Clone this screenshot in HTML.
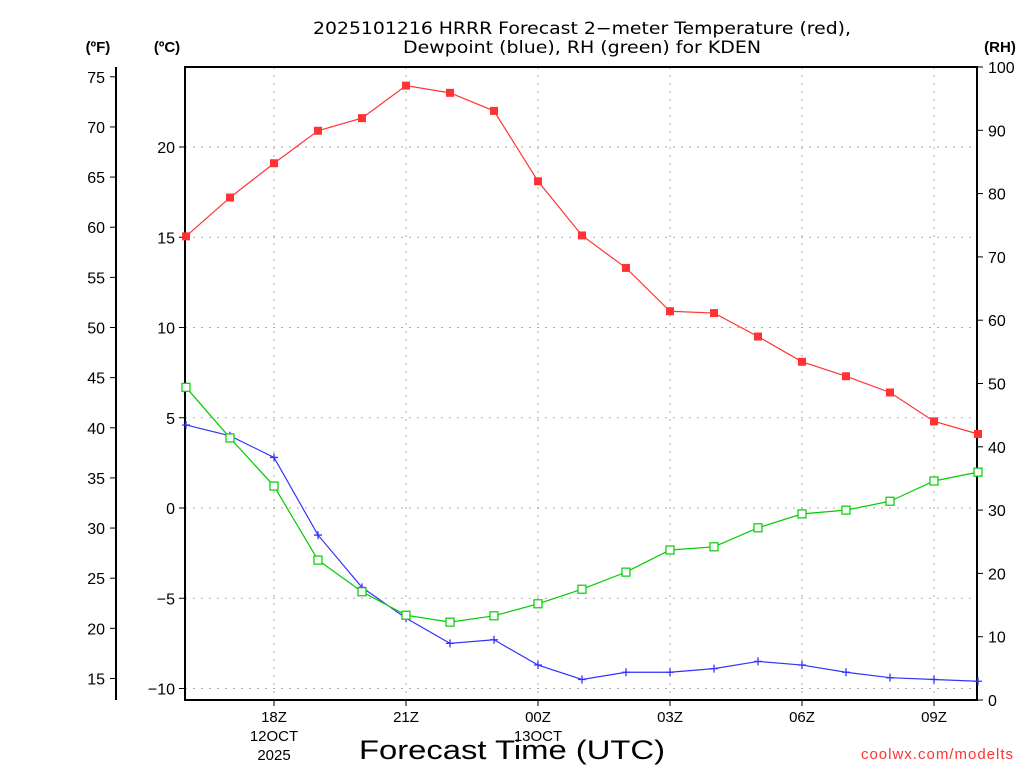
<!DOCTYPE html>
<html><head><meta charset="utf-8"><style>
html,body{margin:0;padding:0;background:#fff;}
svg{display:block;font-family:"Liberation Sans","DejaVu Sans",sans-serif;}
</style></head><body>
<svg id="c" width="1024" height="768" viewBox="0 0 1024 768">
<text x="582" y="34" text-anchor="middle" font-size="17" font-family="DejaVu Sans, sans-serif" textLength="538" lengthAdjust="spacingAndGlyphs">2025101216 HRRR Forecast 2−meter Temperature (red),</text>
<text x="582" y="53" text-anchor="middle" font-size="17" font-family="DejaVu Sans, sans-serif" textLength="358" lengthAdjust="spacingAndGlyphs">Dewpoint (blue), RH (green) for KDEN</text>
<text x="98" y="52" text-anchor="middle" font-size="15" font-weight="bold">(ºF)</text>
<text x="167" y="52" text-anchor="middle" font-size="15" font-weight="bold">(ºC)</text>
<text x="1000" y="52" text-anchor="middle" font-size="15" font-weight="bold">(RH)</text>
<text x="512" y="759" text-anchor="middle" font-size="27" textLength="306" lengthAdjust="spacingAndGlyphs">Forecast Time (UTC)</text>
<text x="1014" y="759" text-anchor="end" font-size="15" fill="#f33" letter-spacing="1">coolwx.com/modelts</text>
<g id="grid"></g><g id="axes"></g><g id="series"></g>
</svg>
<script>
const hours = [16,17,18,19,20,21,22,23,24,25,26,27,28,29,30,31,32,33,34];
const tempC = [15.05,17.2,19.1,20.9,21.6,23.4,23.0,22.0,18.1,15.1,13.3,10.9,10.8,9.5,8.1,7.3,6.4,4.8,4.1];
const dewC = [4.6,4.0,2.8,-1.5,-4.4,-6.1,-7.5,-7.3,-8.7,-9.5,-9.1,-9.1,-8.9,-8.5,-8.7,-9.1,-9.4,-9.5,-9.6];
const rh = [49.4,41.4,33.8,22.1,17.1,13.4,12.3,13.3,15.2,17.5,20.2,23.7,24.2,27.2,29.4,30.0,31.4,34.6,36.0];
const xTickHours = [18,21,24,27,30,33];
const xTickLabels = ["18Z","21Z","00Z","03Z","06Z","09Z"];
const cTicks = [20,15,10,5,0,-5,-10];
const fTicks = [75,70,65,60,55,50,45,40,35,30,25,20,15];
const rhTicks = [100,90,80,70,60,50,40,30,20,10,0];

const NS="http://www.w3.org/2000/svg";
const X=h=>274+(h-18)*44;
const YC=c=>508-c*18.05;
const YF=f=>YC((f-32)*5/9);
const YR=r=>700-r*6.33;
function mk(tag,attrs,parent,text){const e=document.createElementNS(NS,tag);for(const k in attrs)e.setAttribute(k,attrs[k]);if(text!==undefined)e.textContent=text;parent.appendChild(e);return e;}
const grid=document.getElementById('grid'),axes=document.getElementById('axes'),ser=document.getElementById('series');
const L=185,R=977,T=67,B=700;
xTickHours.forEach((h,i)=>{
  const g=mk('line',{x1:X(h),x2:X(h),y1:T,y2:B,stroke:'#aaa','stroke-dasharray':'2,6'},grid);
  
  
  const t=mk('line',{x1:X(h),x2:X(h),y1:B,y2:B+6,stroke:'#000'},axes);
  
  
  const lb=mk('text',{x:X(h),y:B+22,'text-anchor':'middle','font-size':'15'},axes,xTickLabels[i]);
  
  
});
[["12OCT","2025",18],["13OCT",null,24]].forEach(d=>{
  const a=mk('text',{x:X(d[2]),y:B+41,'text-anchor':'middle','font-size':'15'},axes,d[0]);
  
  
  if(d[1]){const b=mk('text',{x:X(d[2]),y:B+60,'text-anchor':'middle','font-size':'15'},axes,d[1]);
  
  }
});
cTicks.forEach(c=>{
  const y=YC(c);
  const g=mk('line',{x1:L,x2:R,y1:y,y2:y,stroke:'#aaa','stroke-dasharray':'2,6'},grid);
  
  
  const t=mk('line',{x1:L-6,x2:L,y1:y,y2:y,stroke:'#000'},axes);
  
  
  const lb=mk('text',{x:L-10,y:y+6,'text-anchor':'end','font-size':'16'},axes,(c<0?'−':'')+Math.abs(c));
  
  
});
fTicks.forEach(f=>{
  const y=YF(f);
  const t=mk('line',{x1:110,x2:116,y1:y,y2:y,stroke:'#000'},axes);
  
  
  const lb=mk('text',{x:105,y:y+6,'text-anchor':'end','font-size':'16'},axes,f);
  
  
});
rhTicks.forEach(r=>{
  const y=YR(r);
  const t=mk('line',{x1:R,x2:R+6,y1:y,y2:y,stroke:'#000'},axes);
  
  
  const lb=mk('text',{x:R+11,y:y+6,'text-anchor':'start','font-size':'16'},axes,r);
  
  
});
const fa=mk('line',{x1:116,x2:116,y1:T,y2:B,stroke:'#000','stroke-width':2},axes);


const box=mk('rect',{x:L,y:T,width:R-L,height:B-T,fill:'none',stroke:'#000','stroke-width':2},axes);



function line(vals,yf,color,name){
  const pts=vals.map((v,i)=>X(hours[i])+','+yf(v)).join(' ');
  const p=mk('polyline',{points:pts,fill:'none',stroke:color,'stroke-width':1.2},ser);
  
  
}
line(tempC,YC,'#f33','temperature');
line(dewC,YC,'#33f','dewpoint');
line(rh,YR,'#0c0','rh');
tempC.forEach((v,i)=>{
  const m=mk('rect',{x:X(hours[i])-4,y:YC(v)-4,width:8,height:8,fill:'#f33'},ser);
  
  
});
dewC.forEach((v,i)=>{
  const x=X(hours[i]),y=YC(v);
  const m=mk('path',{d:`M${x-4},${y}H${x+4}M${x},${y-4}V${y+4}`,stroke:'#33f','stroke-width':1.3},ser);
  
  
});
rh.forEach((v,i)=>{
  const m=mk('rect',{x:X(hours[i])-4,y:YR(v)-4,width:8,height:8,fill:'#fff',stroke:'#0c0','stroke-width':1.2},ser);
  
  
});
</script>
</body></html>
